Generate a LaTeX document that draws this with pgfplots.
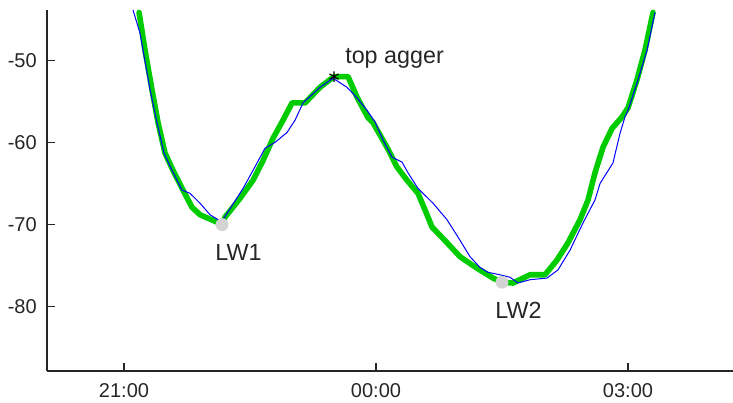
\documentclass[border=0pt]{standalone}
\usepackage{pgfplots}
\pgfplotsset{compat=1.18}
\usepackage{fontspec}
\setmainfont{Liberation Sans}

\definecolor{tidegreen}{RGB}{0,204,0}
\definecolor{tideblue}{RGB}{0,0,255}
\definecolor{markgray}{RGB}{211,211,211}

% Measured water level (thick green) and model (thin blue), hours since midnight of day 1
\pgfplotstableread{
t      h
21.179 -44.2
21.250 -48.8
21.333 -53.6
21.405 -57.6
21.488 -61.3
21.583 -63.4
21.702 -65.8
21.810 -67.9
21.905 -68.8
22.107 -69.7
22.167 -70.0
22.202 -69.1
22.381 -66.8
22.536 -64.6
22.655 -62.2
22.774 -59.5
22.893 -57.3
23.000 -55.2
23.155 -55.2
23.333 -53.3
23.500 -52.0
23.667 -52.0
23.774 -54.5
23.905 -57.0
23.964 -57.6
24.131 -60.6
24.250 -63.0
24.369 -64.6
24.500 -66.2
24.583 -68.2
24.667 -70.3
24.845 -72.2
25.000 -73.9
25.202 -75.3
25.393 -76.5
25.500 -77.0
25.631 -77.1
25.833 -76.1
26.012 -76.1
26.155 -74.3
26.286 -72.2
26.429 -69.4
26.524 -67.0
26.607 -63.7
26.702 -60.6
26.810 -58.3
26.929 -56.9
27.000 -55.8
27.107 -52.4
27.202 -48.8
27.298 -44.2
}\measured

\pgfplotstableread{
t      h
21.107 -43.9
21.190 -46.7
21.310 -53.6
21.393 -57.6
21.476 -61.3
21.571 -63.4
21.690 -65.8
21.786 -66.2
21.905 -67.4
22.024 -68.8
22.119 -69.4
22.179 -69.4
22.417 -65.6
22.536 -63.4
22.679 -60.7
22.798 -60.0
22.940 -58.8
23.036 -57.3
23.131 -55.2
23.333 -53.3
23.488 -52.2
23.655 -53.3
23.774 -54.6
23.893 -56.1
23.988 -57.5
24.083 -59.7
24.190 -61.8
24.310 -62.4
24.381 -63.7
24.500 -65.6
24.679 -67.4
24.845 -69.4
25.000 -71.9
25.119 -73.9
25.238 -75.2
25.333 -75.8
25.476 -76.1
25.595 -76.4
25.690 -77.1
25.833 -76.7
26.036 -76.5
26.167 -75.5
26.310 -73.1
26.464 -69.8
26.607 -67.0
26.667 -65.0
26.821 -62.5
26.905 -58.9
26.964 -56.9
27.000 -56.1
27.119 -52.4
27.226 -48.8
27.321 -44.2
}\model

\begin{document}
\begin{tikzpicture}
\path[use as bounding box] (-35.25pt,-24pt) rectangle (514.5pt,278.25pt);
\begin{axis}[
  at={(0,0)}, anchor=south west,
  scale only axis,
  width=514.5pt, height=270.75pt,
  xmin=20.083, xmax=28.25,
  ymin=-87.8, ymax=-43.9,
  axis x line*=bottom, axis y line*=left,
  axis line style={line width=0.9pt, black!85},
  tick style={line width=0.9pt, black!85},
  tick align=inside,
  major tick length=6pt,
  xtick={21,24,27},
  xticklabels={21:00,00:00,03:00},
  ytick={-80,-70,-60,-50},
  yticklabels={-80,-70,-60,-50},
  ticklabel style={font=\fontsize{15}{18}\selectfont, text=black!85, inner sep=0pt},
  xticklabel style={anchor=north, yshift=-9.5pt},
  yticklabel style={anchor=east, xshift=-7.5pt},
  clip=true,
]
\addplot[tidegreen, line width=4.2pt, line join=round, line cap=round] table[x=t,y=h] {\measured};
\addplot[tideblue, line width=0.75pt, line join=round] table[x=t,y=h] {\model};
\addplot[only marks, mark=*, mark size=4.6pt, markgray, mark options={draw=markgray, fill=markgray}] coordinates {(22.167,-70) (25.5,-77)};
\addplot[only marks, mark=asterisk, mark size=4pt, black, mark options={line width=0.8pt}] coordinates {(23.5,-52)};
\node[anchor=base west, inner sep=0pt, font=\fontsize{17.5}{20}\selectfont, text=black!85] at (axis cs:23.631,-50.4) {top agger};
\node[anchor=base west, inner sep=0pt, font=\fontsize{17.5}{20}\selectfont, text=black!85] at (axis cs:22.083,-74.4) {LW1};
\node[anchor=base west, inner sep=0pt, font=\fontsize{17.5}{20}\selectfont, text=black!85] at (axis cs:25.417,-81.4) {LW2};
\end{axis}
\end{tikzpicture}
\end{document}
